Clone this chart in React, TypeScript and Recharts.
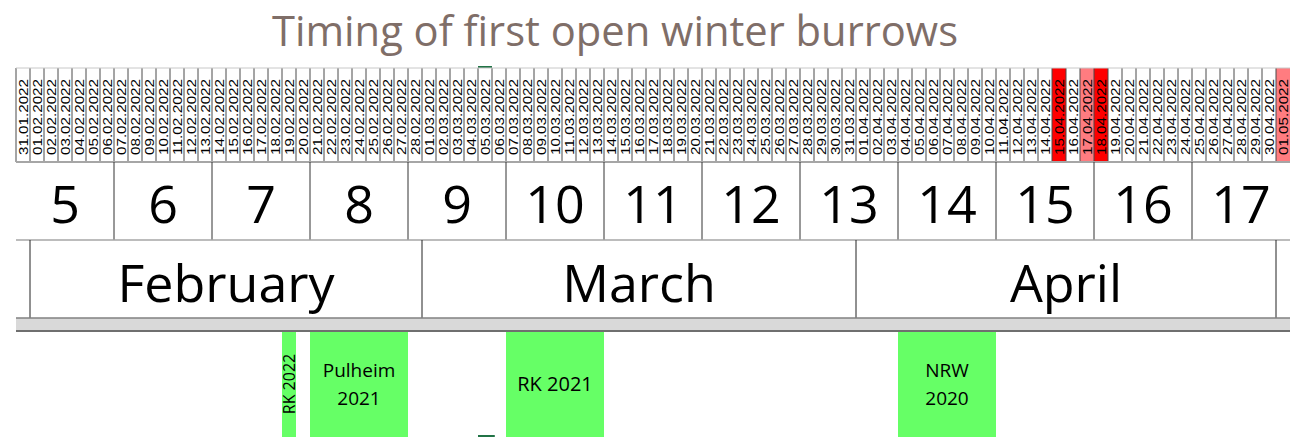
import React from 'react'
import { ComposedChart, XAxis, YAxis, ReferenceArea, ReferenceLine } from 'recharts'

// one column per day, as in the spreadsheet header
const DAYS = [
  '31.01.2022',
  '01.02.2022', '02.02.2022', '03.02.2022', '04.02.2022', '05.02.2022', '06.02.2022', '07.02.2022',
  '08.02.2022', '09.02.2022', '10.02.2022', '11.02.2022', '12.02.2022', '13.02.2022', '14.02.2022',
  '15.02.2022', '16.02.2022', '17.02.2022', '18.02.2022', '19.02.2022', '20.02.2022', '21.02.2022',
  '22.02.2022', '23.02.2022', '24.02.2022', '25.02.2022', '26.02.2022', '27.02.2022', '28.02.2022',
  '01.03.2022', '02.03.2022', '03.03.2022', '04.03.2022', '05.03.2022', '06.03.2022', '07.03.2022',
  '08.03.2022', '09.03.2022', '10.03.2022', '11.03.2022', '12.03.2022', '13.03.2022', '14.03.2022',
  '15.03.2022', '16.03.2022', '17.03.2022', '18.03.2022', '19.03.2022', '20.03.2022', '21.03.2022',
  '22.03.2022', '23.03.2022', '24.03.2022', '25.03.2022', '26.03.2022', '27.03.2022', '28.03.2022',
  '29.03.2022', '30.03.2022', '31.03.2022',
  '01.04.2022', '02.04.2022', '03.04.2022', '04.04.2022', '05.04.2022', '06.04.2022', '07.04.2022',
  '08.04.2022', '09.04.2022', '10.04.2022', '11.04.2022', '12.04.2022', '13.04.2022', '14.04.2022',
  '15.04.2022', '16.04.2022', '17.04.2022', '18.04.2022', '19.04.2022', '20.04.2022', '21.04.2022',
  '22.04.2022', '23.04.2022', '24.04.2022', '25.04.2022', '26.04.2022', '27.04.2022', '28.04.2022',
  '29.04.2022', '30.04.2022',
  '01.05.2022',
]

const HOT_DAYS  = ['15.04.2022', '18.04.2022']
const WARM_DAYS = ['17.04.2022', '01.05.2022']
const SELECTED_DAY = '05.03.2022'   // spreadsheet cursor left in the screenshot

const WEEK_NUMBERS    = [5, 6, 7, 8, 9, 10, 11, 12, 13, 14, 15, 16, 17]
const WEEK_FIRST_DAYS = [
  '31.01.2022', '07.02.2022', '14.02.2022', '21.02.2022', '28.02.2022', '07.03.2022', '14.03.2022',
  '21.03.2022', '28.03.2022', '04.04.2022', '11.04.2022', '18.04.2022', '25.04.2022',
]

const MONTHS           = ['February', 'March', 'April']
const MONTH_FIRST_DAYS = ['01.02.2022', '01.03.2022', '01.04.2022', '01.05.2022']

const RECORD_LABELS = [['RK 2022'], ['Pulheim', '2021'], ['RK 2021'], ['NRW', '2020']]
const RECORD_FIRST  = ['19.02.2022', '21.02.2022', '07.03.2022', '04.04.2022']
const RECORD_LAST   = ['19.02.2022', '27.02.2022', '13.03.2022', '10.04.2022']

// row bands, in pixels from the top of the picture
const ROW = { dateTop: 68, dateBottom: 162, weekBottom: 240, monthBottom: 318, bandBottom: 331, end: 437 }

const W = 1299
const H = 437
const CALIBRI = '"Open Sans", "Noto Sans", sans-serif'
const ARIAL   = '"Liberation Sans", Arial, sans-serif'
const GREEN   = '#66ff66'

const dayIdx = (d: string) => DAYS.indexOf(d)

type VB = { x: number; y: number; width: number; height: number }

function DayText({ viewBox, text }: { viewBox?: VB; text: string }) {
  if (!viewBox) return null
  const cx = viewBox.x + viewBox.width / 2 + 4.8
  const cy = viewBox.y + viewBox.height / 2 + 2
  return (
    <text x={cx} y={cy} transform={`rotate(-90 ${cx} ${cy})`} textAnchor="middle"
      fontSize={13} fontFamily={ARIAL} fill="#000" textLength={76} lengthAdjust="spacingAndGlyphs">
      {text}
    </text>
  )
}

function BigText({ viewBox, text, baseline }: { viewBox?: VB; text: string; baseline: number }) {
  if (!viewBox) return null
  return (
    <text x={viewBox.x + viewBox.width / 2} y={baseline} textAnchor="middle"
      fontSize={52} fontFamily={CALIBRI} fill="#000">
      {text}
    </text>
  )
}

function RecordText({ viewBox, lines }: { viewBox?: VB; lines: string[] }) {
  if (!viewBox) return null
  const cx = viewBox.x + viewBox.width / 2
  const mid = 384
  if (viewBox.width < 20) {
    // single-day bar: text runs upwards
    const bx = cx + 5.5
    return (
      <text x={bx} y={mid} transform={`rotate(-90 ${bx} ${mid})`} textAnchor="middle"
        fontSize={16} fontFamily={CALIBRI} fill="#000">
        {lines[0]}
      </text>
    )
  }
  if (lines.length === 1) {
    return (
      <text x={cx} y={mid + 7} textAnchor="middle" fontSize={20} fontFamily={CALIBRI} fill="#000">
        {lines[0]}
      </text>
    )
  }
  const gap = 28
  const first = mid + 7 - ((lines.length - 1) * gap) / 2
  return (
    <text textAnchor="middle" fontSize={19} fontFamily={CALIBRI} fill="#000">
      {lines.map((l, i) => <tspan key={i} x={cx} y={first + i * gap}>{l}</tspan>)}
    </text>
  )
}

export default function App() {
  const nDays = DAYS.length
  const sel = dayIdx(SELECTED_DAY)
  return (
    <div style={{ position: 'absolute', left: 0, top: 0, width: W, height: H, background: '#fff', overflow: 'hidden' }}>
      <div style={{ position: 'absolute', left: 0, top: 0.5, width: 1230, textAlign: 'center', fontFamily: CALIBRI, fontSize: 41.7, color: '#7f6e68', lineHeight: 'normal' }}>
        Timing of first open winter burrows
      </div>
      <ComposedChart width={W} height={H} data={DAYS.map((d, i) => ({ x: i, d }))}
        margin={{ top: 0, right: 9, bottom: 0, left: 16 }} style={{ position: 'absolute', left: 0, top: 0 }}>
        <XAxis type="number" dataKey="x" domain={[0, nDays]} hide allowDataOverflow />
        <YAxis type="number" domain={[0, H]} reversed hide allowDataOverflow />

        {/* date header */}
        {DAYS.map((d, i) => (
          <ReferenceArea key={`d${i}`} x1={i} x2={i + 1} y1={ROW.dateTop} y2={ROW.dateBottom}
            fill={HOT_DAYS.includes(d) ? '#ff0000' : WARM_DAYS.includes(d) ? '#ff7c80' : '#ffffff'}
            fillOpacity={1} stroke="none" label={<DayText text={d} />} />
        ))}
        {DAYS.map((_, i) => (
          <ReferenceLine key={`dl${i}`} segment={[{ x: i, y: ROW.dateTop }, { x: i, y: ROW.dateBottom }]}
            stroke="#4a4a4a" strokeWidth={1} />
        ))}
        <ReferenceLine segment={[{ x: 0, y: ROW.dateTop }, { x: nDays, y: ROW.dateTop }]} stroke="#c8c8c8" />
        <ReferenceLine segment={[{ x: 0, y: ROW.dateBottom }, { x: nDays, y: ROW.dateBottom }]} stroke="#a6a6a6" strokeWidth={2} />
        <ReferenceArea x1={sel} x2={sel + 1} y1={ROW.dateTop - 2} y2={ROW.dateTop} fill="#217346" fillOpacity={1} stroke="none" />

        {/* calendar weeks */}
        {WEEK_NUMBERS.map((w, i) => {
          const s = dayIdx(WEEK_FIRST_DAYS[i])
          return (
            <ReferenceArea key={`w${w}`} x1={s} x2={s + 7} y1={ROW.dateBottom} y2={ROW.weekBottom}
              fill="none" stroke="none" label={<BigText text={String(w)} baseline={223} />} />
          )
        })}
        {WEEK_FIRST_DAYS.slice(1).map(d => (
          <ReferenceLine key={`wl${d}`} segment={[{ x: dayIdx(d), y: ROW.dateBottom }, { x: dayIdx(d), y: ROW.weekBottom }]}
            stroke="#333" />
        ))}
        <ReferenceLine segment={[{ x: 0, y: ROW.weekBottom }, { x: nDays, y: ROW.weekBottom }]} stroke="#a6a6a6" strokeWidth={1.5} />

        {/* months */}
        {MONTHS.map((m, i) => (
          <ReferenceArea key={m} x1={dayIdx(MONTH_FIRST_DAYS[i])} x2={dayIdx(MONTH_FIRST_DAYS[i + 1])}
            y1={ROW.weekBottom} y2={ROW.monthBottom} fill="none" stroke="none"
            label={<BigText text={m} baseline={302} />} />
        ))}
        {MONTH_FIRST_DAYS.map(d => (
          <ReferenceLine key={`ml${d}`} segment={[{ x: dayIdx(d), y: ROW.weekBottom }, { x: dayIdx(d), y: ROW.monthBottom }]}
            stroke="#222" />
        ))}

        {/* grey separator band */}
        <ReferenceArea x1={0} x2={nDays} y1={ROW.monthBottom} y2={ROW.bandBottom} fill="#d9d9d9" fillOpacity={1} stroke="none" />
        <ReferenceLine segment={[{ x: 0, y: ROW.monthBottom }, { x: nDays, y: ROW.monthBottom }]} stroke="#808080" strokeWidth={1.5} />
        <ReferenceLine segment={[{ x: 0, y: ROW.bandBottom }, { x: nDays, y: ROW.bandBottom }]} stroke="#6f6f6f" strokeWidth={2} />

        {/* first open burrows */}
        {RECORD_LABELS.map((lines, i) => (
          <ReferenceArea key={`r${i}`} x1={dayIdx(RECORD_FIRST[i])} x2={dayIdx(RECORD_LAST[i]) + 1}
            y1={ROW.bandBottom + 1} y2={ROW.end} fill={GREEN} fillOpacity={1} stroke="none"
            label={<RecordText lines={lines} />} />
        ))}
        <ReferenceArea x1={sel} x2={sel + 1.2} y1={ROW.end - 2} y2={ROW.end} fill="#217346" fillOpacity={1} stroke="none" />
      </ComposedChart>
    </div>
  )
}
